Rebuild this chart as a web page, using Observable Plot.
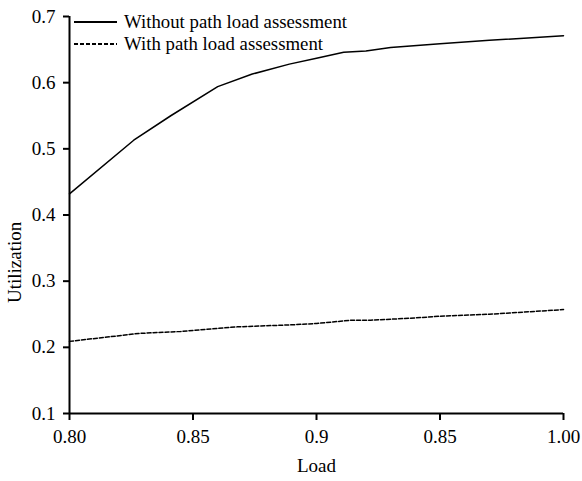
<!DOCTYPE html>
<html>
<head>
<meta charset="utf-8">
<script src="https://cdn.jsdelivr.net/npm/d3@7"></script>
<script src="https://cdn.jsdelivr.net/npm/@observablehq/plot@0.6"></script>
<style>
  html, body { margin: 0; padding: 0; background: #fff; }
  #chart { width: 582px; height: 481px; }
</style>
</head>
<body>
<div id="chart"></div>
<script>
// Series names
const seriesNames = ["Without path load assessment", "With path load assessment"];

// Without path load assessment (solid)
const loadWithout = [0.800, 0.826, 0.841, 0.860, 0.874, 0.889, 0.900, 0.911, 0.920, 0.930, 0.950, 0.970, 1.000];
const utilWithout = [0.432, 0.513, 0.550, 0.594, 0.613, 0.628, 0.637, 0.646, 0.648, 0.653, 0.659, 0.664, 0.671];

// With path load assessment (dashed)
const loadWith = [0.800, 0.828, 0.845, 0.868, 0.890, 0.900, 0.914, 0.922, 0.938, 0.950, 0.970, 1.000];
const utilWith = [0.209, 0.221, 0.224, 0.231, 0.234, 0.236, 0.241, 0.241, 0.244, 0.247, 0.250, 0.257];

// Axis ticks and labels (labels as printed in the original)
const xTicks = [0.80, 0.85, 0.90, 0.95, 1.00];
const xTickLabels = ["0.80", "0.85", "0.9", "0.85", "1.00"];
const yTicks = [0.1, 0.2, 0.3, 0.4, 0.5, 0.6, 0.7];
const yTickLabels = ["0.1", "0.2", "0.3", "0.4", "0.5", "0.6", "0.7"];

const xLabel = "Load";
const yLabel = "Utilization";

const without = loadWithout.map((x, i) => ({x, y: utilWithout[i]}));
const withPLA = loadWith.map((x, i) => ({x, y: utilWith[i]}));

const FONT = "'Liberation Serif', 'DejaVu Serif', serif";
const FS = 19;
const dashes = ["none", "4,2"];

// Legend as a render-function mark, anchored to the frame's top-left
function legend(index, scales, values, dims) {
  const g = d3.create("svg:g");
  const x0 = dims.marginLeft + 5;
  seriesNames.forEach((name, i) => {
    const y = dims.marginTop + 6 + i * 22;
    g.append("line")
      .attr("x1", x0).attr("x2", x0 + 43)
      .attr("y1", y).attr("y2", y)
      .attr("stroke", "#000").attr("stroke-width", 1.8)
      .attr("stroke-dasharray", dashes[i]);
    g.append("text")
      .attr("x", x0 + 50).attr("y", y).attr("dy", "0.32em")
      .attr("text-anchor", "start")
      .attr("font-family", FONT).attr("font-size", 18.8).attr("fill", "#000")
      .text(name);
  });
  return g.node();
}

const chart = Plot.plot({
  width: 582,
  height: 481,
  marginLeft: 69,
  marginRight: 19,
  marginTop: 16,
  marginBottom: 68,
  style: {fontFamily: FONT, fontSize: FS + "px", background: "#fff", color: "#000"},
  x: {domain: [0.8, 1.0], ticks: xTicks, tickFormat: (d, i) => xTickLabels[i], label: null},
  y: {domain: [0.1, 0.7], ticks: yTicks, tickFormat: (d, i) => yTickLabels[i], label: null},
  marks: [
    Plot.axisX({ticks: xTicks, tickFormat: (d, i) => xTickLabels[i], tickSize: 7, tickPadding: 9, stroke: "#000", strokeWidth: 2, strokeOpacity: 1, fontSize: FS, label: null}),
    Plot.axisY({ticks: yTicks, tickFormat: (d, i) => yTickLabels[i], tickSize: 6, tickPadding: 8, stroke: "#000", strokeWidth: 2, strokeOpacity: 1, fontSize: FS, label: null}),
    Plot.ruleX([0.8], {stroke: "#000", strokeWidth: 2}),
    Plot.ruleY([0.1], {stroke: "#000", strokeWidth: 2}),
    Plot.line(without, {x: "x", y: "y", stroke: "#000", strokeWidth: 1.5}),
    Plot.line(withPLA, {x: "x", y: "y", stroke: "#000", strokeWidth: 1.5, strokeDasharray: "4,2"}),
    Plot.text([xLabel], {frameAnchor: "bottom", dy: 58, fontSize: FS, fill: "#000"}),
    Plot.text([yLabel], {frameAnchor: "left", dx: -55, dy: 88, rotate: -90, fontSize: FS, fill: "#000"}),
    legend
  ]
});

document.getElementById("chart").appendChild(chart);
</script>
</body>
</html>
